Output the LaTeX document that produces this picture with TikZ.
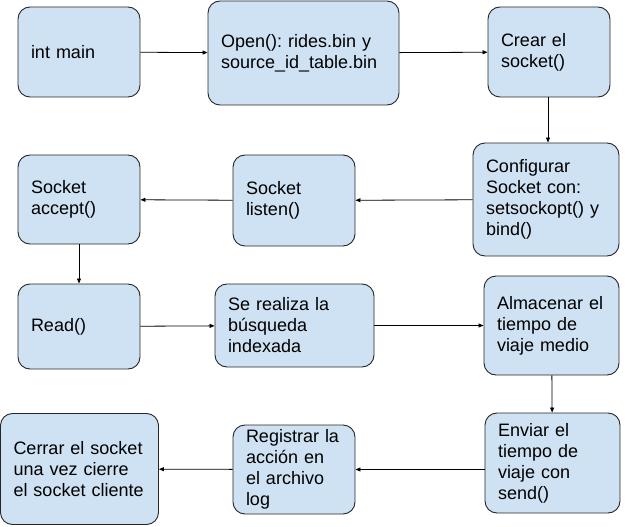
\documentclass[tikz,border=0pt]{standalone}
\usepackage{fontspec}
\setmainfont{Liberation Sans}
\usetikzlibrary{arrows.meta}
\frenchspacing

\tikzset{
  box/.style={draw=black!85, line width=0.9pt, fill=paso, rounded corners=12pt,
    align=left, inner xsep=13pt, inner ysep=0pt,
    font=\fontsize{18}{21}\selectfont},
  arr/.style={line width=0.8pt, -{Triangle[length=5pt,width=4pt]}}
}
\definecolor{paso}{HTML}{CFE2F3}

\begin{document}
\begin{tikzpicture}[x=1pt, y=-1pt]
\useasboundingbox (0,0) rectangle (625,527);
%first row
\node[box, text width=96pt, minimum height=90pt] (main) at (79,52) {int main};
\node[box, text width=165pt, minimum height=104pt] (open) at (303.5,53) {Open(): rides.bin y\\source\_id\_table.bin};
\node[box, text width=96pt, minimum height=90pt] (crear) at (549,52) {Crear el\\socket()};
%second row
\node[box, text width=120pt, minimum height=113pt] (config) at (546,199.5) {Configurar\\Socket con:\\setsockopt() y\\bind()};
\node[box, text width=96pt, minimum height=91pt] (listen) at (294,200.5) {Socket\\listen()};
\node[box, text width=96pt, minimum height=89pt] (accept) at (79,199.5) {Socket\\accept()};
%third row
\node[box, text width=96pt, minimum height=85pt] (read) at (79,326.5) {Read()};
\node[box, text width=133pt, minimum height=83pt] (busq) at (294.5,325.5) {Se realiza la\\búsqueda\\indexada};
\node[box, text width=109pt, minimum height=99pt] (alma) at (551.5,325.5) {Almacenar el\\tiempo de\\viaje medio};
%last row
\node[box, text width=109pt, minimum height=100pt] (enviar) at (552.5,463) {Enviar el\\tiempo de\\viaje con\\send()};
\node[box, text width=96pt, minimum height=89pt] (registrar) at (294,469.5) {Registrar la\\acción en\\el archivo\\log};
\node[box, text width=132pt, minimum height=111pt] (cerrar) at (79.5,469) {Cerrar el socket\\una vez cierre\\el socket cliente};
%arrows
\draw[arr] (main) -- (open);
\draw[arr] (open) -- (crear);
\draw[arr] ([xshift=-1pt]crear.south) -- ([xshift=-1pt]crear.south |- config.north);
\draw[arr] (config) -- (listen);
\draw[arr] (listen) -- (accept);
\draw[arr] (accept) -- (read);
\draw[arr] (read) -- (busq);
\draw[arr] (busq) -- (alma);
\draw[arr] (alma) -- (enviar);
\draw[arr] (enviar.west |- registrar) -- (registrar);
\draw[arr] (registrar) -- (cerrar);
\end{tikzpicture}
\end{document}
